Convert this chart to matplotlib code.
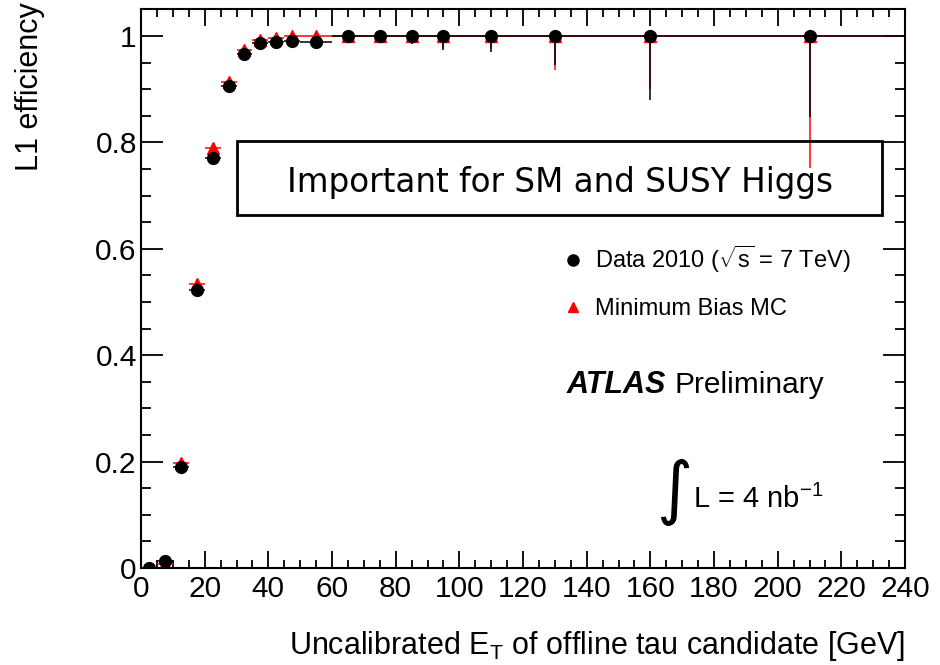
import numpy as np
import matplotlib
matplotlib.use("Agg")
import matplotlib.pyplot as plt
from matplotlib.lines import Line2D
from matplotlib.patches import Rectangle
from matplotlib.ticker import MultipleLocator, FuncFormatter

plt.rcParams['font.family'] = ['Liberation Sans', 'DejaVu Sans']
plt.rcParams['mathtext.fontset'] = 'custom'
plt.rcParams['mathtext.rm'] = 'Liberation Sans'
plt.rcParams['mathtext.it'] = 'Liberation Sans:italic'
plt.rcParams['mathtext.bf'] = 'Liberation Sans:bold'

# bin edges of the offline tau ET [GeV]
bin_edges = [0, 5, 10, 15, 20, 25, 30, 35, 40, 45, 50, 60, 70, 80, 90, 100, 120, 140, 180, 240]

# data 2010
data_eff = [0.0, 0.013, 0.19, 0.523, 0.771, 0.906, 0.966, 0.987, 0.989, 0.991, 0.989,
            1.0, 1.0, 1.0, 1.0, 1.0, 1.0, 1.0, 1.0]
data_err_lo = [0.0, 0.005, 0.01, 0.012, 0.01, 0.008, 0.006, 0.005, 0.005, 0.005, 0.005,
               0.004, 0.008, 0.015, 0.027, 0.031, 0.055, 0.121, 0.153]
data_err_hi = [0.003, 0.006, 0.01, 0.012, 0.01, 0.007, 0.005, 0.004, 0.004, 0.004, 0.004,
               0.0, 0.0, 0.0, 0.0, 0.0, 0.0, 0.0, 0.0]

# minimum bias MC
mc_eff = [0.0, 0.008, 0.197, 0.534, 0.79, 0.913, 0.974, 0.992, 0.996, 1.0, 1.0,
          1.0, 1.0, 1.0, 1.0, 1.0, 1.0, 1.0, 1.0]
mc_err_lo = [0.0, 0.004, 0.008, 0.01, 0.008, 0.006, 0.005, 0.004, 0.004, 0.003, 0.003,
             0.003, 0.006, 0.012, 0.022, 0.025, 0.064, 0.1, 0.249]
mc_err_hi = [0.003, 0.005, 0.008, 0.01, 0.008, 0.006, 0.004, 0.003, 0.003, 0.0, 0.0,
             0.0, 0.0, 0.0, 0.0, 0.0, 0.0, 0.0, 0.0]

edges = np.array(bin_edges, dtype=float)
x = 0.5 * (edges[1:] + edges[:-1])
xw = 0.5 * (edges[1:] - edges[:-1])

fig = plt.figure(figsize=(9.4, 6.65), dpi=100)
ax = fig.add_axes([0.15, 0.1459, 0.8128, 0.8401])

ax.errorbar(x, mc_eff, xerr=xw, yerr=[mc_err_lo, mc_err_hi], fmt='^', color='red',
            ms=9, elinewidth=1.1, capsize=0, zorder=2)
ax.errorbar(x, data_eff, xerr=xw, yerr=[data_err_lo, data_err_hi], fmt='o', color='black',
            ms=8.5, elinewidth=1.1, capsize=0, zorder=3)

ax.set_xlim(0, 240)
ax.set_ylim(0, 1.05)
ax.xaxis.set_major_locator(MultipleLocator(20))
ax.xaxis.set_minor_locator(MultipleLocator(5))
ax.yaxis.set_major_locator(MultipleLocator(0.2))
ax.yaxis.set_minor_locator(MultipleLocator(0.05))
ax.yaxis.set_major_formatter(FuncFormatter(lambda v, p: f"{v:g}"))

for s in ax.spines.values():
    s.set_linewidth(1.5)
ax.tick_params(which='both', direction='in', top=True, right=True, width=1.3)
ax.tick_params(axis='x', which='major', length=12, pad=5, labelsize=21.5)
ax.tick_params(axis='x', which='minor', length=6)
ax.tick_params(axis='y', which='major', length=16, pad=3, labelsize=21.5)
ax.tick_params(axis='y', which='minor', length=7.5)

fig.text(0.032, 0.997, "L1 efficiency", rotation=90, ha='center', va='top', fontsize=22)
fig.text(0.9628, 0.017, r"Uncalibrated E$_\mathrm{T}$ of offline tau candidate [GeV]",
         ha='right', va='baseline', fontsize=22)

# highlighted note
ax.add_patch(Rectangle((0.1257, 0.632), 0.8443, 0.132, transform=ax.transAxes,
                       fill=False, lw=2, ec='black', zorder=4))
ax.text(0.548, 0.673, "Important for SM and SUSY Higgs", transform=ax.transAxes,
        ha='center', va='baseline', fontsize=23.5, family='DejaVu Sans', zorder=5)

handles = [Line2D([], [], marker='o', ls='none', color='black', ms=8),
           Line2D([], [], marker='^', ls='none', color='red', ms=7)]
ax.legend(handles, [r"Data 2010 ($\sqrt{\mathrm{s}}$ = 7 TeV)", "Minimum Bias MC"],
          loc='upper left', bbox_to_anchor=(0.5497, 0.580), frameon=False,
          fontsize=17, handlelength=1.0, handletextpad=0.45, labelspacing=0.95,
          borderpad=0, borderaxespad=0)

ax.text(0.5576, 0.3275, "ATLAS", transform=ax.transAxes, ha='left', va='center',
        fontsize=22, fontweight='bold', fontstyle='italic')
ax.text(0.6985, 0.3275, "Preliminary", transform=ax.transAxes, ha='left', va='center',
        fontsize=21.5)
ax.text(0.698, 0.136, "\u222b", transform=ax.transAxes, ha='center', va='center',
        fontsize=50, family=['DejaVu Sans'])
ax.text(0.7225, 0.1074, r"L = 4 nb$^{-1}$", transform=ax.transAxes, ha='left',
        va='baseline', fontsize=21)

fig.savefig("out.png", dpi=100)
